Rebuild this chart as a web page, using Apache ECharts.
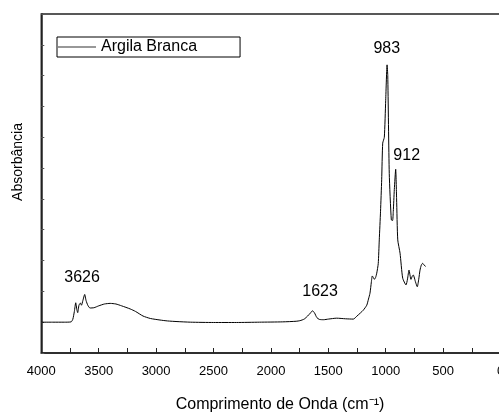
<!DOCTYPE html>
<html>
<head>
<meta charset="utf-8">
<script src="https://cdn.jsdelivr.net/npm/echarts@6/dist/echarts.min.js"></script>
<style>html,body{margin:0;padding:0;background:#fff;}#c{width:499px;height:412px;}</style>
</head>
<body>
<div id="c"></div>
<script>
var wavenumber = [4000,3900,3800,3740,3725,3712,3700,3690,3683,3672,3660,3650,3638,3622,3610,3595,3576,3540,3500,3450,3400,3350,3300,3226,3180,3114,3050,2966,2900,2818,2700,2500,2300,2100,1900,1780,1746,1710,1680,1655,1638,1620,1600,1578,1540,1500,1427,1350,1282,1250,1220,1195,1165,1150,1137,1125,1117,1108,1099,1088,1078,1065,1056,1045,1035,1026,1012,1000,988,982,969,951,940,934,925,913,905,895,875,852,823,810,797,780,768,760,740,725,712,701,690,678,665,652];
var absorbance = [1.0,1.0,1.0,1.01,1.1,1.35,1.63,1.4,1.31,1.55,1.62,1.55,1.7,1.9,1.7,1.55,1.46,1.47,1.53,1.59,1.61,1.59,1.53,1.43,1.35,1.2,1.12,1.07,1.04,1.02,1.0,0.99,0.99,1.0,1.01,1.03,1.05,1.1,1.2,1.3,1.37,1.3,1.15,1.09,1.08,1.1,1.13,1.11,1.1,1.2,1.3,1.39,1.55,1.75,1.94,2.3,2.5,2.45,2.39,2.45,2.59,2.9,3.67,4.6,5.62,6.81,7.0,8.2,9.35,9.0,5.83,4.32,4.3,4.59,5.3,5.96,5.0,3.67,3.24,2.43,2.21,2.4,2.69,2.39,2.5,2.53,2.3,2.15,2.4,2.69,2.85,2.91,2.85,2.81];
var peakLabels = ['3626','1623','983','912'];
var peakLabelX = [3645,1572,991,817];
var peakLabelY = [2.44,1.99,9.89,6.42];
var seriesName = 'Argila Branca';
var xTicks = [0,500,1000,1500,2000,2500,3000,3500,4000];

var FONT = '"Liberation Sans", Arial, sans-serif';
var chart = echarts.init(document.getElementById('c'), null, {renderer:'canvas'});
var data = wavenumber.map(function(w,i){return [w, absorbance[i]];});
var marks = peakLabels.map(function(t,i){return {coord:[peakLabelX[i], peakLabelY[i]], value:t};});

chart.setOption({
  animation:false,
  backgroundColor:'#fff',
  grid:{left:41.3, right:-1.5, top:14, bottom:59, show:true, borderColor:'#222', borderWidth:1.5, backgroundColor:'transparent', outerBoundsMode:'none', containLabel:false},
  legend:{
    left:57, top:37, orient:'horizontal',
    data:[{name:seriesName, icon:'rect'}],
    itemWidth:38, itemHeight:1, itemGap:0,
    padding:[2,43,2,1],
    borderColor:'#000', borderWidth:1,
    textStyle:{fontFamily:FONT, fontSize:16, color:'#000', padding:[0,0,0,0]}
  },
  xAxis:{
    type:'value', min:0, max:4000, interval:500, inverse:true,
    axisLine:{show:true, onZero:false, lineStyle:{color:'#222', width:1.5}},
    axisTick:{show:true, inside:true, length:5, lineStyle:{color:'#222', width:1}},
    minorTick:{show:true, splitNumber:2, length:5, lineStyle:{color:'#222', width:1}},
    splitLine:{show:false},
    axisLabel:{show:true, margin:12, fontFamily:FONT, fontSize:13, color:'#000',
      formatter:function(v){return xTicks.indexOf(v)>=0 ? String(v) : '';}}
  },
  yAxis:{
    type:'value', min:0, max:11, interval:1,
    axisLine:{show:true, onZero:false, lineStyle:{color:'#222', width:1.5}},
    axisTick:{show:true, inside:true, length:3, lineStyle:{color:'#555', width:1}},
    axisLabel:{show:false},
    splitLine:{show:false}
  },
  graphic:[
    {type:'text', x:18, y:162, rotation:Math.PI/2,
      style:{text:'Absorbância', fontFamily:FONT, fontSize:14, fill:'#000', textAlign:'center', textVerticalAlign:'middle'}},
    {type:'text', x:280, y:405,
      style:{text:'Comprimento de Onda (cm⁻¹)', fontFamily:FONT, fontSize:16, fill:'#000', textAlign:'center', textVerticalAlign:'middle'}}
  ],
  series:[{
    name:seriesName, type:'line', data:data, showSymbol:false, symbol:'none',
    smooth:0.2,
    lineStyle:{color:'#000', width:1},
    itemStyle:{color:'#333'},
    markPoint:{
      symbol:'rect', symbolSize:1, itemStyle:{color:'rgba(0,0,0,0)'},
      label:{show:true, position:'inside', formatter:'{c}', fontFamily:FONT, fontSize:16, color:'#000'},
      data:marks
    }
  }]
});
</script>
</body>
</html>
